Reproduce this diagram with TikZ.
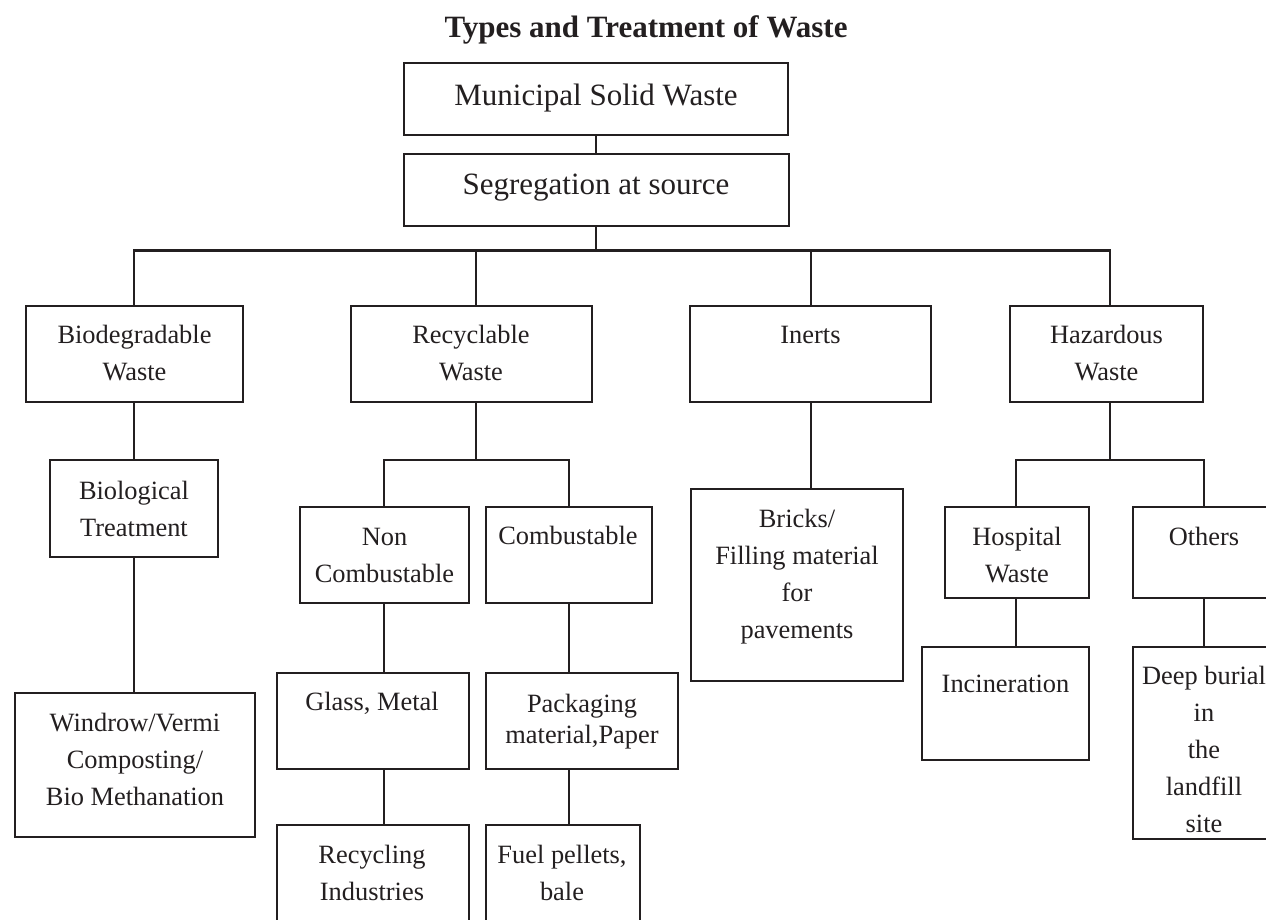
\documentclass[tikz,border=0pt]{standalone}
\usepackage{fontspec}
\setmainfont{Liberation Serif}
\definecolor{ink}{HTML}{231F20}
\newcommand{\fs}{\rule{0pt}{20pt}}
\newcommand{\fb}{\rule{0pt}{24pt}}
\begin{document}
\begin{tikzpicture}[x=1pt,y=-1pt,
  box/.style={draw=ink, line width=1.6pt, rectangle, inner sep=0pt, outer sep=0pt, fill=none},
  conn/.style={draw=ink, line width=2.8pt},
  txt/.style={anchor=north, inner sep=0pt, align=center, text=ink, font=\fontsize{26.4}{37}\selectfont},
  bigtxt/.style={anchor=north, inner sep=0pt, align=center, text=ink, font=\fontsize{31}{37}\selectfont},
  ttl/.style={anchor=north, inner sep=0pt, text=ink, font=\fontsize{31}{37}\bfseries\selectfont}]
\useasboundingbox (0,0) rectangle (1266,919);
\fill[white] (0,0) rectangle (1266,919);

% title
\node[ttl] (title) at (646,13) {\fb Types and Treatment of Waste};

% boxes
\node[box, minimum width=384pt, minimum height=72pt] (msw) at (596,99) {};
\node[box, minimum width=385pt, minimum height=72pt] (seg) at (596.5,190) {};
\node[box, minimum width=217pt, minimum height=96pt] (bio) at (134.5,354) {};
\node[box, minimum width=241pt, minimum height=96pt] (rec) at (471.5,354) {};
\node[box, minimum width=241pt, minimum height=96pt] (ine) at (810.5,354) {};
\node[box, minimum width=193pt, minimum height=96pt] (haz) at (1106.5,354) {};
\node[box, minimum width=168pt, minimum height=97pt] (biot) at (134,508.5) {};
\node[box, minimum width=169pt, minimum height=96pt] (ncomb) at (384.5,555) {};
\node[box, minimum width=166pt, minimum height=96pt] (comb) at (569,555) {};
\node[box, minimum width=212pt, minimum height=192pt] (bricks) at (797,585) {};
\node[box, minimum width=144pt, minimum height=91pt] (hosp) at (1017,552.5) {};
\node[box, minimum width=142pt, minimum height=91pt] (oth) at (1204,552.5) {};
\node[box, minimum width=240pt, minimum height=144pt] (wind) at (135,765) {};
\node[box, minimum width=192pt, minimum height=96pt] (glass) at (373,721) {};
\node[box, minimum width=192pt, minimum height=96pt] (pack) at (582,721) {};
\node[box, minimum width=167pt, minimum height=113pt] (inc) at (1005.5,703.5) {};
\node[box, minimum width=142pt, minimum height=192pt] (deep) at (1204,743) {};
\node[box, minimum width=192pt, minimum height=110pt] (recy) at (373,880) {};
\node[box, minimum width=154pt, minimum height=110pt] (fuel) at (563,880) {};

% texts
\node[bigtxt] (tmsw) at (596,81) {\fb Municipal Solid Waste};
\node[bigtxt] (tseg) at (596,170) {\fb Segregation at source};
\node[txt] (tbio) at (134.5,323) {\fs Biodegradable\\Waste};
\node[txt] (trec) at (471,323) {\fs Recyclable\\Waste};
\node[txt] (tine) at (810.5,323) {\fs Inerts};
\node[txt] (thaz) at (1106.5,323) {\fs Hazardous\\Waste};
\node[txt] (tbiot) at (134,479) {\fs Biological\\Treatment};
\node[txt] (tncomb) at (384.5,525) {\fs Non\\Combustable};
\node[txt] (tcomb) at (568,524) {\fs Combustable};
\node[txt] (tbricks) at (797,507) {\fs Bricks/\\Filling material\\for\\pavements};
\node[txt] (thosp) at (1017,525) {\fs Hospital\\Waste};
\node[txt] (toth) at (1204,525) {\fs Others};
\node[txt] (twind) at (135,711) {\fs Windrow/Vermi\\Composting/\\Bio Methanation};
\node[txt] (tglass) at (372,690) {\fs Glass, Metal};
\node[txt, font=\fontsize{26.4}{31}\selectfont] (tpack) at (582,692) {\fs Packaging\\material,Paper};
\node[txt] (tinc) at (1005.5,672) {\fs Incineration};
\node[txt] (tdeep) at (1204,664) {\fs Deep burial\\in\\the\\landfill\\site};
\node[txt] (trecy) at (372,843) {\fs Recycling\\Industries};
\node[txt] (tfuel) at (562,843) {\fs Fuel pellets,\\bale};

% junction coordinates
\coordinate (bus1) at (134,250.5);
\coordinate (bus2) at (476,250.5);
\coordinate (bus3) at (811,250.5);
\coordinate (bus4) at (1110,250.5);
\coordinate (r1) at (384,460);
\coordinate (r2) at (569,460);
\coordinate (h1) at (1016,460);
\coordinate (h2) at (1204,460);

% connectors
\draw[conn] (msw.south) -- (seg.north -| msw.south);
\draw[conn] (seg.south -| msw.south) -- (msw.south |- bus1);
\draw[conn] (bio.north -| bus1) -- (bus1) -- (bus4) -- (haz.north -| bus4);
\draw[conn] (bus2) -- (rec.north -| bus2);
\draw[conn] (bus3) -- (ine.north -| bus3);

\draw[conn] (bio.south -| bus1) -- (biot.north -| bus1);
\draw[conn] (biot.south -| bus1) -- (wind.north -| bus1);

\draw[conn] (rec.south -| bus2) -- (bus2 |- r1);
\draw[conn] (ncomb.north -| r1) -- (r1) -- (r2) -- (comb.north -| r2);
\draw[conn] (ncomb.south -| r1) -- (glass.north -| r1);
\draw[conn] (glass.south -| r1) -- (recy.north -| r1);
\draw[conn] (comb.south -| r2) -- (pack.north -| r2);
\draw[conn] (pack.south -| r2) -- (fuel.north -| r2);

\draw[conn] (ine.south -| bus3) -- (bricks.north -| bus3);

\draw[conn] (haz.south -| bus4) -- (bus4 |- h1);
\draw[conn] (hosp.north -| h1) -- (h1) -- (h2) -- (oth.north -| h2);
\draw[conn] (hosp.south -| h1) -- (inc.north -| h1);
\draw[conn] (oth.south -| h2) -- (deep.north -| h2);
\end{tikzpicture}
\end{document}
